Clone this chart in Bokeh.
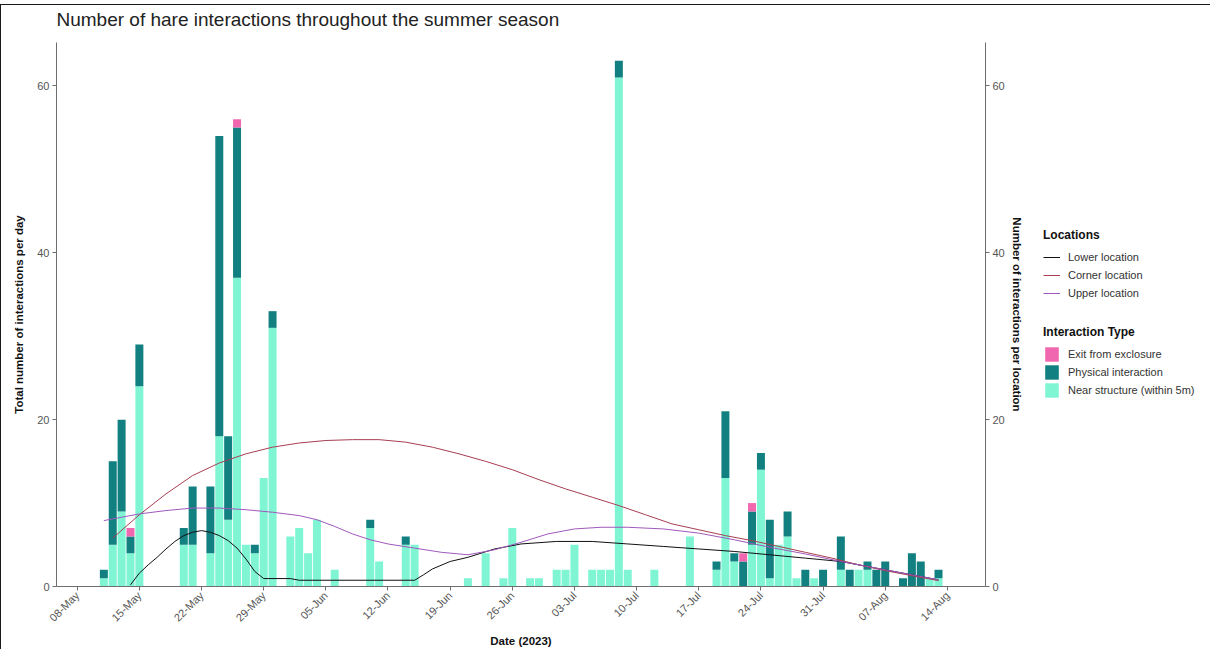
import pandas as pd
from math import pi
from bokeh.plotting import figure
from bokeh.layouts import row
from bokeh.models import (ColumnDataSource, Range1d, LinearAxis, FixedTicker,
                          DatetimeTickFormatter, Legend, LegendItem, Title)
from bokeh.embed import file_html
from bokeh.resources import INLINE

# ---------------- data ----------------
bar_dates = ["2023-05-11", "2023-05-12", "2023-05-13", "2023-05-14", "2023-05-15",
             "2023-05-20", "2023-05-21", "2023-05-23", "2023-05-24", "2023-05-25",
             "2023-05-26", "2023-05-27", "2023-05-28", "2023-05-29", "2023-05-30",
             "2023-06-01", "2023-06-02", "2023-06-03", "2023-06-04", "2023-06-06",
             "2023-06-10", "2023-06-11", "2023-06-14", "2023-06-15", "2023-06-21",
             "2023-06-23", "2023-06-25", "2023-06-26", "2023-06-28", "2023-06-29",
             "2023-07-01", "2023-07-02", "2023-07-03", "2023-07-05", "2023-07-06",
             "2023-07-07", "2023-07-08", "2023-07-09", "2023-07-12", "2023-07-16",
             "2023-07-19", "2023-07-20", "2023-07-21", "2023-07-22", "2023-07-23",
             "2023-07-24", "2023-07-25", "2023-07-26", "2023-07-27", "2023-07-28",
             "2023-07-29", "2023-07-30", "2023-07-31", "2023-08-02", "2023-08-03",
             "2023-08-04", "2023-08-05", "2023-08-06", "2023-08-07", "2023-08-09",
             "2023-08-10", "2023-08-11", "2023-08-12", "2023-08-13"]
near_structure = [1, 5, 9, 4, 24,
                  5, 5, 4, 18, 8,
                  37, 5, 4, 13, 31,
                  6, 7, 4, 8, 2,
                  7, 3, 5, 5, 1,
                  4, 1, 7, 1, 1,
                  2, 2, 5, 2, 2,
                  2, 61, 2, 2, 6,
                  2, 13, 3, 0, 5,
                  14, 1, 5, 6, 1,
                  0, 1, 0, 2, 0,
                  2, 2, 0, 0, 0,
                  0, 0, 1, 1]
physical = [1, 10, 11, 2, 5,
            2, 7, 8, 36, 10,
            18, 0, 1, 0, 2,
            0, 0, 0, 0, 0,
            1, 0, 1, 0, 0,
            0, 0, 0, 0, 0,
            0, 0, 0, 0, 0,
            0, 2, 0, 0, 0,
            1, 8, 1, 3, 4,
            2, 7, 0, 3, 0,
            2, 0, 2, 4, 2,
            0, 1, 2, 3, 1,
            4, 3, 0, 1]
exit_exclosure = [0, 0, 0, 1, 0,
                  0, 0, 0, 0, 0,
                  1, 0, 0, 0, 0,
                  0, 0, 0, 0, 0,
                  0, 0, 0, 0, 0,
                  0, 0, 0, 0, 0,
                  0, 0, 0, 0, 0,
                  0, 0, 0, 0, 0,
                  0, 0, 0, 1, 1,
                  0, 0, 0, 0, 0,
                  0, 0, 0, 0, 0,
                  0, 0, 0, 0, 0,
                  0, 0, 0, 0]

lower_dates = ["2023-05-14", "2023-05-15", "2023-05-16", "2023-05-17", "2023-05-18",
               "2023-05-19", "2023-05-20", "2023-05-21", "2023-05-22", "2023-05-23",
               "2023-05-24", "2023-05-25", "2023-05-26", "2023-05-27", "2023-05-28",
               "2023-05-29", "2023-06-01", "2023-06-02", "2023-06-15", "2023-06-16",
               "2023-06-17", "2023-06-19", "2023-06-21", "2023-06-24", "2023-06-27",
               "2023-07-01", "2023-07-05", "2023-07-09", "2023-07-13", "2023-07-17",
               "2023-07-21", "2023-07-25", "2023-07-29", "2023-08-02", "2023-08-06",
               "2023-08-10", "2023-08-13"]
lower_vals = [0.2, 1.6, 2.6, 3.5, 4.5,
              5.4, 6.1, 6.5, 6.7, 6.5,
              6.1, 5.5, 4.6, 3.3, 1.8,
              0.95, 0.95, 0.75, 0.75, 1.4,
              2.1, 3.0, 3.5, 4.5, 5.1,
              5.4, 5.4, 5.1, 4.8, 4.5,
              4.2, 3.8, 3.4, 3.0, 2.2,
              1.4, 0.8]

corner_dates = ["2023-05-12", "2023-05-15", "2023-05-18", "2023-05-21", "2023-05-24",
                "2023-05-27", "2023-05-30", "2023-06-02", "2023-06-05", "2023-06-08",
                "2023-06-11", "2023-06-14", "2023-06-17", "2023-06-20", "2023-06-23",
                "2023-06-26", "2023-06-29", "2023-07-02", "2023-07-05", "2023-07-08",
                "2023-07-11", "2023-07-14", "2023-07-17", "2023-07-20", "2023-07-23",
                "2023-07-26", "2023-07-29", "2023-08-01", "2023-08-04", "2023-08-07",
                "2023-08-10", "2023-08-13"]
corner_vals = [5.8, 8.6, 11.1, 13.3, 14.8,
               15.9, 16.7, 17.2, 17.5, 17.6,
               17.6, 17.3, 16.7, 15.9, 15.0,
               14.0, 12.8, 11.7, 10.7, 9.7,
               8.6, 7.5, 6.8, 6.1, 5.5,
               4.8, 4.1, 3.4, 2.6, 1.9,
               1.3, 0.7]

upper_dates = ["2023-05-11", "2023-05-15", "2023-05-18", "2023-05-21", "2023-05-24",
               "2023-05-27", "2023-05-30", "2023-06-02", "2023-06-04", "2023-06-06",
               "2023-06-08", "2023-06-10", "2023-06-12", "2023-06-15", "2023-06-18",
               "2023-06-21", "2023-06-24", "2023-06-27", "2023-06-30", "2023-07-03",
               "2023-07-06", "2023-07-09", "2023-07-13", "2023-07-17", "2023-07-21",
               "2023-07-25", "2023-07-29", "2023-08-02", "2023-08-06", "2023-08-10",
               "2023-08-13"]
upper_vals = [7.9, 8.7, 9.1, 9.4, 9.4,
              9.2, 8.9, 8.5, 8.0, 7.2,
              6.3, 5.6, 5.1, 4.6, 4.1,
              3.8, 4.4, 5.3, 6.3, 6.9,
              7.1, 7.1, 6.9, 6.4, 5.6,
              4.7, 3.9, 3.0, 2.2, 1.4,
              0.8]

x_tick_dates = ["2023-05-08", "2023-05-15", "2023-05-22", "2023-05-29", "2023-06-05",
                "2023-06-12", "2023-06-19", "2023-06-26", "2023-07-03", "2023-07-10",
                "2023-07-17", "2023-07-24", "2023-07-31", "2023-08-07", "2023-08-14"]
y_ticks = [0, 20, 40, 60]

chart_title = "Number of hare interactions throughout the summer season"
type_labels = ["Exit from exclosure", "Physical interaction", "Near structure (within 5m)"]
location_labels = ["Lower location", "Corner location", "Upper location"]

# ---------------- style ----------------
FONT = "Liberation Sans"
C_NEAR = "#7ff5d4"
C_PHYS = "#128080"
C_EXIT = "#f067b0"
C_LOWER = "#111111"
C_CORNER = "#a83e52"
C_UPPER = "#a058bc"
AXIS_C = "#6e6e6e"
TICK_TXT = "#555555"
DAY_MS = 86400000
EPOCH = pd.Timestamp("1970-01-01")


def to_ms(d):
    return (pd.Timestamp(d) - EPOCH) // pd.Timedelta(milliseconds=1)


src = ColumnDataSource(dict(date=pd.to_datetime(bar_dates),
                            near=near_structure, physical=physical,
                            exit=exit_exclosure))

x_start = pd.Timestamp("2023-05-08") - pd.Timedelta(hours=56)
x_end = pd.Timestamp("2023-05-08") + pd.Timedelta(hours=2455)

H = 644
p = figure(width=1030, height=H, x_axis_type="datetime",
           x_range=Range1d(x_start, x_end), y_range=Range1d(0, 65.2),
           output_backend="svg", toolbar_location=None,
           min_border_left=55, min_border_right=46,
           min_border_top=37, min_border_bottom=63,
           background_fill_color="white", border_fill_color="white")

# spacer (closest to the frame) and the real title above it
p.add_layout(Title(text=" ", text_font=FONT, text_font_size="10px", standoff=0), "above")
p.add_layout(Title(text=chart_title, text_font=FONT, text_font_size="19px",
                   text_font_style="normal", text_color="#222222", standoff=0), "above")

p.xgrid.visible = False
p.ygrid.visible = False
p.outline_line_color = None

bars = p.vbar_stack(["near", "physical", "exit"], x="date", width=0.9 * DAY_MS,
                    fill_color=[C_NEAR, C_PHYS, C_EXIT], line_color=None, source=src)

p.line(pd.to_datetime(lower_dates), lower_vals, line_color=C_LOWER, line_width=1)
p.line(pd.to_datetime(corner_dates), corner_vals, line_color=C_CORNER, line_width=1)
p.line(pd.to_datetime(upper_dates), upper_vals, line_color=C_UPPER, line_width=1)

# axes
xa = p.xaxis[0]
xa.ticker = FixedTicker(ticks=[to_ms(d) for d in x_tick_dates])
fmt = "%d-%b"
xa.formatter = DatetimeTickFormatter(milliseconds=fmt, seconds=fmt, minsec=fmt, minutes=fmt,
                                     hourmin=fmt, hours=fmt, days=fmt, months=fmt, years=fmt)
xa.major_label_orientation = pi / 4
xa.axis_label = "Date (2023)"

ya = p.yaxis[0]
ya.ticker = FixedTicker(ticks=y_ticks)
ya.axis_label = "Total number of interactions per day"

ra = LinearAxis(ticker=FixedTicker(ticks=y_ticks),
                axis_label="Number of interactions per location")
p.add_layout(ra, "right")

for ax in [xa, ya, ra]:
    ax.axis_line_color = AXIS_C
    ax.major_tick_line_color = AXIS_C
    ax.major_tick_out = 4
    ax.major_tick_in = 0
    ax.minor_tick_line_color = None
    ax.major_label_text_font = FONT
    ax.major_label_text_font_size = "11px"
    ax.major_label_text_color = TICK_TXT
    ax.axis_label_text_font = FONT
    ax.axis_label_text_font_size = "11.5px"
    ax.axis_label_text_font_style = "bold"
    ax.axis_label_text_color = "#111111"
    ax.major_label_standoff = 3
ya.axis_label_standoff = 9
ra.axis_label_standoff = 3
xa.axis_label_standoff = 4

# ---------------- legend panel ----------------
lp = figure(width=179, height=H, x_range=Range1d(0, 1), y_range=Range1d(0, 1),
            output_backend="svg", toolbar_location=None,
            x_axis_location=None, y_axis_location=None,
            min_border_left=0, min_border_right=0, min_border_top=0, min_border_bottom=0,
            background_fill_color="white", border_fill_color="white")
lp.xgrid.visible = False
lp.ygrid.visible = False
lp.outline_line_color = None

# legend keys (drawn outside the visible range, used only for the legend glyphs)
g_low = lp.line(x=[10, 11], y=[10, 10], line_color=C_LOWER, line_width=1)
g_cor = lp.line(x=[10, 11], y=[10, 10], line_color=C_CORNER, line_width=1)
g_up = lp.line(x=[10, 11], y=[10, 10], line_color=C_UPPER, line_width=1)
g_exit = lp.vbar(x=[10], top=[10], width=1, fill_color=C_EXIT, line_color=None)
g_phys = lp.vbar(x=[10], top=[10], width=1, fill_color=C_PHYS, line_color=None)
g_near = lp.vbar(x=[10], top=[10], width=1, fill_color=C_NEAR, line_color=None)


def style_legend(lg):
    lg.title_text_font = FONT
    lg.title_text_font_size = "12px"
    lg.title_text_font_style = "bold"
    lg.title_text_color = "#111111"
    lg.title_standoff = 6
    lg.label_text_font = FONT
    lg.label_text_font_size = "11px"
    lg.label_text_color = "#333333"
    lg.glyph_width = 17
    lg.glyph_height = 18
    lg.label_height = 18
    lg.label_standoff = 8
    lg.spacing = 0
    lg.padding = 0
    lg.margin = 0
    lg.border_line_color = None
    lg.background_fill_alpha = 0


leg_loc = Legend(items=[LegendItem(label=location_labels[0], renderers=[g_low]),
                        LegendItem(label=location_labels[1], renderers=[g_cor]),
                        LegendItem(label=location_labels[2], renderers=[g_up])],
                 title="Locations", location=(12, 284))
style_legend(leg_loc)
leg_type = Legend(items=[LegendItem(label=type_labels[0], renderers=[g_exit]),
                         LegendItem(label=type_labels[1], renderers=[g_phys]),
                         LegendItem(label=type_labels[2], renderers=[g_near])],
                  title="Interaction Type", location=(12, 187))
style_legend(leg_type)
lp.add_layout(leg_loc)
lp.add_layout(leg_type)

layout = row(p, lp)
layout.styles = {"border-top": "1px solid #1a1a1a", "border-left": "1px solid #1a1a1a",
                 "margin-top": "4px"}

open("out.html", "w").write(file_html(layout, INLINE))
